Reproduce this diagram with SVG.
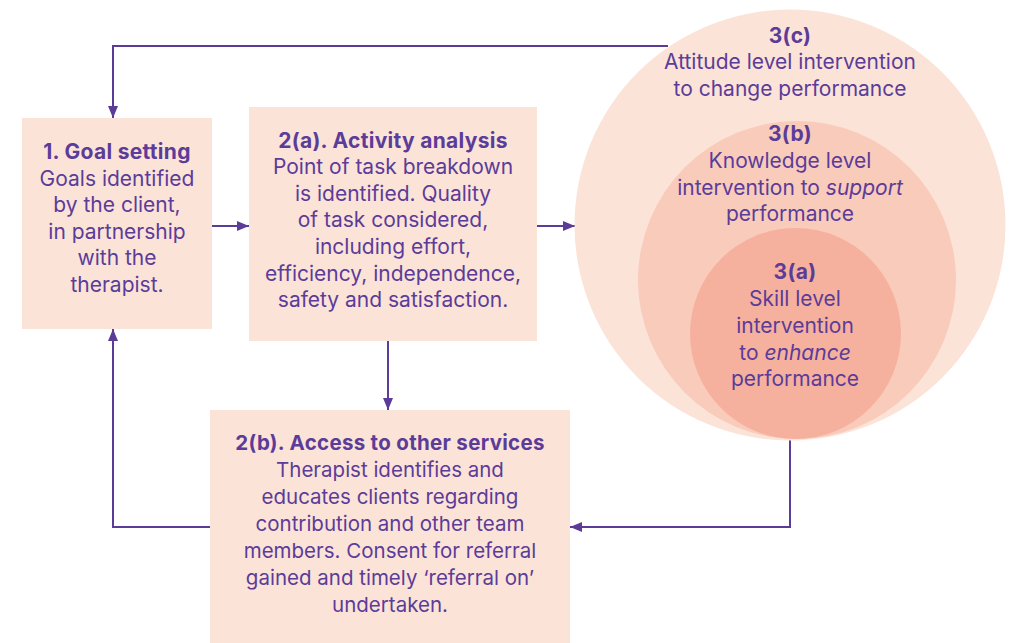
<svg xmlns="http://www.w3.org/2000/svg" width="1009" height="643" viewBox="0 0 1009 643">
<defs>
<style>
.box{fill:#fce3d8}
.t{font-family:Inter,"Open Sans",sans-serif;font-size:21px;fill:#5b3c98;text-anchor:middle}
.s{font-size:20.5px}
.b{font-weight:700;letter-spacing:0.3px}
.c{fill:none;stroke:#5b3c98;stroke-width:2}
</style>
<marker id="ah" viewBox="0 0 12 10" refX="12" refY="5" markerWidth="12" markerHeight="10" markerUnits="userSpaceOnUse" orient="auto">
<path d="M0,0 L12,5 L0,10 Z" fill="#5b3c98"/>
</marker>
</defs>
<rect width="1009" height="643" fill="#ffffff"/>
<g id="connectors">
<path class="c" d="M668,46 H113 V118" marker-end="url(#ah)"/>
<path class="c" d="M212,226 H249" marker-end="url(#ah)"/>
<path class="c" d="M537,226 H575" marker-end="url(#ah)"/>
<path class="c" d="M388,341 V410" marker-end="url(#ah)"/>
<path class="c" d="M210,527 H113 V329" marker-end="url(#ah)"/>
<path class="c" d="M790,440 V527 H570" marker-end="url(#ah)"/>
</g>
<g id="circles">
<circle cx="790" cy="225" r="215.5" fill="#fce3d8"/>
<circle cx="797" cy="280" r="159" fill="#f9cbbb"/>
<circle cx="795.5" cy="333.5" r="105.5" fill="#f6b19e"/>
</g>
<g id="node-3c">
<text class="t b" x="790" y="43">3(c)</text>
<text class="t" x="790" y="69">Attitude level intervention</text>
<text class="t" x="790" y="96">to change performance</text>
</g>
<g id="node-3b">
<text class="t b" x="790" y="141">3(b)</text>
<text class="t" x="790" y="168">Knowledge level</text>
<text class="t" x="790" y="195">intervention to <tspan font-style="italic">support</tspan></text>
<text class="t" x="790" y="221">performance</text>
</g>
<g id="node-3a">
<text class="t b" x="795" y="279">3(a)</text>
<text class="t" x="795" y="306">Skill level</text>
<text class="t" x="795" y="333">intervention</text>
<text class="t" x="795" y="360">to <tspan font-style="italic">enhance</tspan></text>
<text class="t" x="795" y="386">performance</text>
</g>
<g id="node-1">
<rect class="box" x="22" y="118" width="190" height="211"/>
<text class="t b" x="117" y="159">1. Goal setting</text>
<text class="t" x="117" y="186">Goals identified</text>
<text class="t" x="117" y="212">by the client,</text>
<text class="t" x="117" y="239">in partnership</text>
<text class="t" x="117" y="265">with the</text>
<text class="t" x="117" y="292">therapist.</text>
</g>
<g id="node-2a">
<rect class="box" x="249" y="107" width="288" height="234"/>
<text class="t b" x="393" y="148">2(a). Activity analysis</text>
<text class="t" x="393" y="174">Point of task breakdown</text>
<text class="t" x="393" y="201">is identified. Quality</text>
<text class="t" x="393" y="227">of task considered,</text>
<text class="t" x="393" y="254">including effort,</text>
<text class="t" x="393" y="281">efficiency, independence,</text>
<text class="t" x="393" y="307">safety and satisfaction.</text>
</g>
<g id="node-2b">
<rect class="box" x="210" y="410" width="360" height="233"/>
<text class="t b s" x="390" y="450">2(b). Access to other services</text>
<text class="t s" x="390" y="477">Therapist identifies and</text>
<text class="t s" x="390" y="504">educates clients regarding</text>
<text class="t s" x="390" y="531">contribution and other team</text>
<text class="t s" x="390" y="558">members. Consent for referral</text>
<text class="t s" x="390" y="585">gained and timely ‘referral on’</text>
<text class="t s" x="390" y="612">undertaken.</text>
</g>
</svg>
